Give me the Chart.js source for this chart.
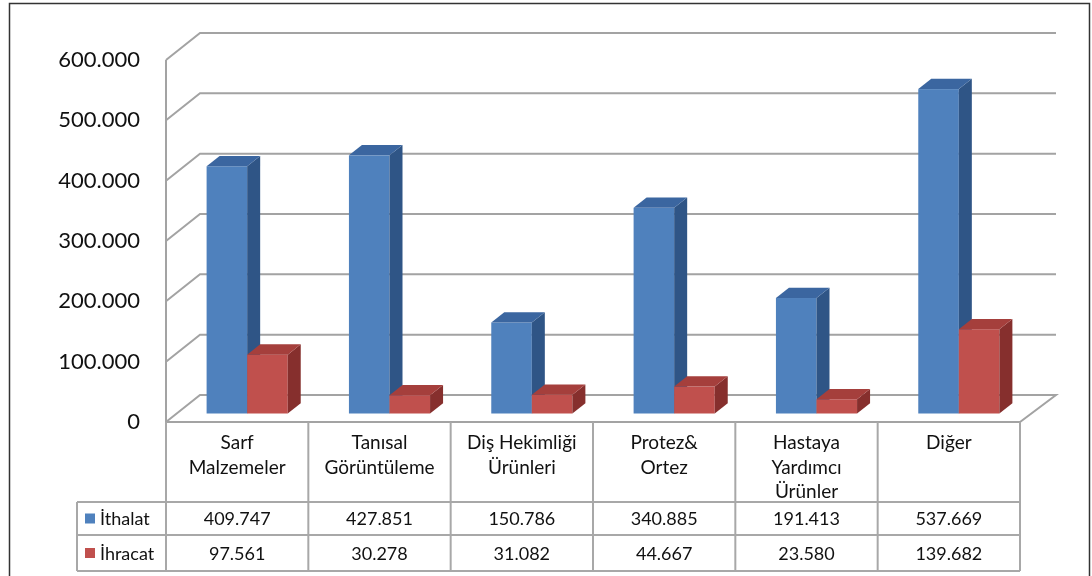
<!DOCTYPE html>
<html lang="tr">
<head>
<meta charset="UTF-8">
<title>İthalat / İhracat</title>
<script src="https://cdn.jsdelivr.net/npm/chart.js@4.4.1/dist/chart.umd.min.js"></script>
<style>
  body { margin: 0; background: #fff; }
</style>
</head>
<body>
<canvas id="chart" width="1092" height="576"></canvas>
<script>
// data
const categories = [
  ['Sarf', 'Malzemeler'],
  ['Tanısal', 'Görüntüleme'],
  ['Diş Hekimliği', 'Ürünleri'],
  ['Protez&', 'Ortez'],
  ['Hastaya', 'Yardımcı', 'Ürünler'],
  ['Diğer']
];
const ithalat = [409747, 427851, 150786, 340885, 191413, 537669];
const ihracat = [97561, 30278, 31082, 44667, 23580, 139682];
const seriesNames = ['İthalat', 'İhracat'];

const colors = {
  blue: { front: '#4f81bd', side: '#2f5586', top: '#3b66a0' },
  red: { front: '#c0504d', side: '#862f2d', top: '#a53f3c' }
};

const fmt = (v) => String(v).replace(/\B(?=(\d{3})+(?!\d))/g, '.');

// 3d geometry
const wallDX = 34, wallDY = -27;     // front plane -> back wall
const barDX = 10, barDY = -8.5;      // bar front face offset
const depthDX = 13, depthDY = -10.3; // bar depth
const gridColor = '#a3a3a3';
const tableColor = '#a8a8a8';
const textColor = '#111';
const FONT = 'Lato, "Open Sans", sans-serif';

function box(ctx, x0, x1, top, base, c) {
  const l = x0 + barDX, r = x1 + barDX, t = top + barDY, b = base + barDY;
  ctx.fillStyle = c.front;
  ctx.fillRect(l, t, r - l, b - t);
  ctx.fillStyle = c.side;
  ctx.beginPath();
  ctx.moveTo(r, t);
  ctx.lineTo(r + depthDX, t + depthDY);
  ctx.lineTo(r + depthDX, b + depthDY);
  ctx.lineTo(r, b);
  ctx.closePath();
  ctx.fill();
  ctx.fillStyle = c.top;
  ctx.beginPath();
  ctx.moveTo(l, t);
  ctx.lineTo(l + depthDX, t + depthDY);
  ctx.lineTo(r + depthDX, t + depthDY);
  ctx.lineTo(r, t);
  ctx.closePath();
  ctx.fill();
}

const walls = {
  id: 'walls',
  beforeDatasetsDraw(chart) {
    const { ctx, chartArea: a, scales: { y } } = chart;
    ctx.save();
    ctx.strokeStyle = gridColor;
    ctx.lineWidth = 2;
    y.ticks.forEach((t) => {
      const py = y.getPixelForValue(t.value);
      ctx.beginPath();
      ctx.moveTo(a.left, py);
      ctx.lineTo(a.left + wallDX, py + wallDY);
      ctx.lineTo(a.right + wallDX + 2, py + wallDY);
      if (t.value === 0) {
        ctx.lineTo(a.right, py);
        ctx.lineTo(a.left, py);
      }
      ctx.stroke();
    });
    // axis line
    ctx.beginPath();
    ctx.moveTo(a.left, a.top);
    ctx.lineTo(a.left, a.bottom);
    ctx.stroke();
    ctx.restore();
  },
  afterDatasetsDraw(chart) {
    const { ctx } = chart;
    const m0 = chart.getDatasetMeta(0).data;
    const m1 = chart.getDatasetMeta(1).data;
    ctx.save();
    m0.forEach((bar, i) => {
      const p0 = bar.getProps(['x', 'y', 'base', 'width'], true);
      box(ctx, p0.x - p0.width / 2, p0.x + p0.width / 2, p0.y, p0.base, colors.blue);
      const p1 = m1[i].getProps(['x', 'y', 'base', 'width'], true);
      box(ctx, p1.x - p1.width / 2, p1.x + p1.width / 2, p1.y, p1.base, colors.red);
    });
    ctx.restore();
  },
  afterDraw(chart) {
    const { ctx, chartArea: a, scales: { x } } = chart;
    const rowTop = a.bottom, row1 = 502, row2 = 535, row3 = 571, legLeft = 77;
    const colW = (a.right - a.left) / categories.length;
    ctx.save();
    ctx.strokeStyle = tableColor;
    ctx.lineWidth = 2;
    ctx.beginPath();
    ctx.moveTo(a.left, rowTop); ctx.lineTo(a.left, row3);
    for (let i = 1; i <= categories.length; i++) {
      const cx = a.left + colW * i;
      ctx.moveTo(cx, rowTop); ctx.lineTo(cx, row3);
    }
    ctx.moveTo(legLeft, row1); ctx.lineTo(a.right, row1);
    ctx.moveTo(legLeft, row2); ctx.lineTo(a.right, row2);
    ctx.moveTo(legLeft, row3); ctx.lineTo(a.right, row3);
    ctx.moveTo(legLeft, row1); ctx.lineTo(legLeft, row3);
    ctx.stroke();

    ctx.fillStyle = textColor;
    ctx.textAlign = 'center';
    ctx.textBaseline = 'middle';
    ctx.font = '19px ' + FONT;
    categories.forEach((lines, i) => {
      const cx = x.getPixelForValue(i);
      lines.forEach((ln, j) => ctx.fillText(ln, cx, 443 + j * 24.5));
    });
    ctx.font = '18px ' + FONT;
    categories.forEach((lines, i) => {
      const cx = x.getPixelForValue(i);
      ctx.fillText(fmt(ithalat[i]), cx, (row1 + row2) / 2 + 1);
      ctx.fillText(fmt(ihracat[i]), cx, (row2 + row3) / 2 + 1);
    });

    // legend keys
    ctx.textAlign = 'left';
    [[colors.blue.front, (row1 + row2) / 2], [colors.red.front, (row2 + row3) / 2]].forEach(([c, cy], k) => {
      ctx.fillStyle = c;
      ctx.fillRect(85, cy - 5, 10, 10);
      ctx.fillStyle = textColor;
      ctx.fillText(seriesNames[k], 100, cy + 1);
    });

    // outer frame
    ctx.strokeStyle = '#333';
    ctx.lineWidth = 1.5;
    ctx.strokeRect(9.5, 3.5, 1080, 580);
    ctx.restore();
  }
};

Chart.defaults.font.family = FONT;

new Chart(document.getElementById('chart'), {
  type: 'bar',
  data: {
    labels: categories,
    datasets: [
      { label: seriesNames[0], data: ithalat, backgroundColor: 'rgba(0,0,0,0)' },
      { label: seriesNames[1], data: ihracat, backgroundColor: 'rgba(0,0,0,0)' }
    ]
  },
  options: {
    responsive: false,
    animation: false,
    categoryPercentage: 0.57,
    barPercentage: 1,
    layout: { padding: { left: 0, top: 60, right: 72, bottom: 154 } },
    plugins: { legend: { display: false }, tooltip: { enabled: false } },
    scales: {
      x: { display: false },
      y: {
        min: 0,
        max: 600000,
        grid: { display: false, drawTicks: false },
        border: { display: false },
        afterFit: (s) => { s.width = 166; },
        ticks: {
          stepSize: 100000,
          padding: 26,
          color: textColor,
          font: { size: 22 },
          callback: (v) => fmt(v)
        }
      }
    }
  },
  plugins: [walls]
});
</script>
</body>
</html>
